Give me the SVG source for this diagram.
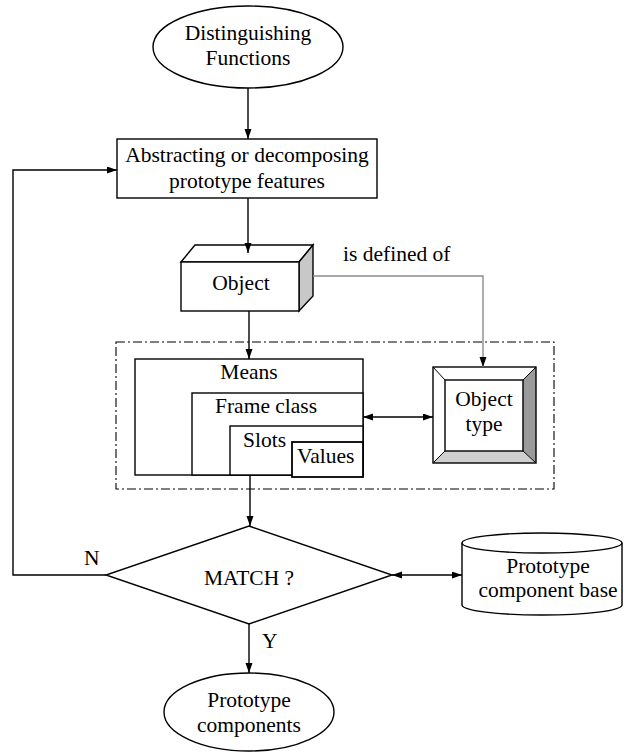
<svg xmlns="http://www.w3.org/2000/svg" width="624" height="755" viewBox="0 0 624 755">
  <defs>
    <marker id="arr" markerUnits="userSpaceOnUse" markerWidth="11" markerHeight="8" refX="10" refY="3.5" orient="auto-start-reverse">
      <path d="M0,0 L10,3.5 L0,7 z" fill="#000"/>
    </marker>
    <marker id="arrGray" markerUnits="userSpaceOnUse" markerWidth="11" markerHeight="8" refX="10" refY="3.5" orient="auto-start-reverse">
      <path d="M0,0 L10,3.5 L0,7 z" fill="#000"/>
    </marker>
    <style>
      .shape { fill: #fff; stroke: #000; stroke-width: 1.4; }
      .edge { fill: none; stroke: #000; stroke-width: 1.4; }
      .edge-gray { fill: none; stroke: #8c8c8c; stroke-width: 1.4; }
      .frame { fill: none; stroke: #000; stroke-width: 1.1; stroke-dasharray: 9 3 2 3; }
      text { font-family: "Liberation Serif", "Times New Roman", serif; font-size: 21.5px; fill: #000; }
      .mid { text-anchor: middle; }
    </style>
  </defs>

  <!-- start terminal -->
  <g id="distinguishing-functions">
    <ellipse class="shape" cx="248" cy="47" rx="95" ry="41"/>
    <text class="mid" x="248" y="40">Distinguishing</text>
    <text class="mid" x="248" y="65">Functions</text>
  </g>

  <!-- process step -->
  <g id="abstracting">
    <rect class="shape" x="117" y="139" width="260" height="59"/>
    <text class="mid" x="247" y="162">Abstracting or decomposing</text>
    <text class="mid" x="247" y="188">prototype features</text>
  </g>

  <!-- 3D object block -->
  <g id="object">
    <polygon class="shape" points="181,262 195,245 313,245 299,262"/>
    <polygon class="shape" points="299,262 313,245 313,296 299,311" style="fill:#c8c8c8"/>
    <rect class="shape" x="181" y="262" width="118" height="49"/>
    <text class="mid" x="241" y="290">Object</text>
  </g>

  <!-- dash-dot grouping frame -->
  <g id="frame-group">
    <rect class="frame" x="116" y="342" width="438" height="147"/>
  </g>

  <!-- nested Means / Frame class / Slots / Values -->
  <g id="means">
    <rect class="shape" x="135" y="359" width="228" height="116"/>
    <text class="mid" x="249" y="379">Means</text>
  </g>
  <g id="frame-class">
    <rect class="shape" x="192" y="393" width="171" height="82"/>
    <text x="215" y="413">Frame class</text>
  </g>
  <g id="slots">
    <rect class="shape" x="230" y="426" width="133" height="49"/>
    <text x="243" y="447">Slots</text>
  </g>
  <g id="values">
    <rect class="shape" x="292" y="442" width="71" height="35" style="stroke-width:1.8"/>
    <text x="297" y="463">Values</text>
  </g>

  <!-- bevelled Object type button -->
  <g id="object-type">
    <rect x="433" y="367" width="103" height="96" fill="#fff"/>
    <polygon points="536,367 536,463 523,451 523,380" fill="#9a9a9a"/>
    <polygon points="433,463 536,463 523,451 445,451" fill="#cfcfcf"/>
    <line x1="433" y1="367" x2="445" y2="380" stroke="#000" stroke-width="1"/>
    <line x1="536" y1="367" x2="523" y2="380" stroke="#000" stroke-width="1"/>
    <line x1="433" y1="463" x2="445" y2="451" stroke="#000" stroke-width="1"/>
    <line x1="536" y1="463" x2="523" y2="451" stroke="#000" stroke-width="1"/>
    <rect x="433" y="367" width="103" height="96" fill="none" stroke="#000" stroke-width="1.4"/>
    <rect x="445" y="380" width="78" height="71" fill="#fff" stroke="#000" stroke-width="1.4"/>
    <text class="mid" x="484" y="406">Object</text>
    <text class="mid" x="484" y="431">type</text>
  </g>

  <!-- decision -->
  <g id="match">
    <polygon class="shape" points="249,526 392,575 249,624 106,575"/>
    <text class="mid" x="249" y="585">MATCH ?</text>
  </g>

  <!-- data store -->
  <g id="component-base">
    <path class="shape" d="M462,543 A80,10 0 0 1 622,543 V605 A80,10 0 0 1 462,605 Z"/>
    <path class="edge" d="M462,543 A80,10 0 0 0 622,543"/>
    <text class="mid" x="548" y="573">Prototype</text>
    <text class="mid" x="548" y="597">component base</text>
  </g>

  <!-- end terminal -->
  <g id="prototype-components">
    <ellipse class="shape" cx="249" cy="712" rx="85" ry="39"/>
    <text class="mid" x="249" y="707">Prototype</text>
    <text class="mid" x="249" y="732">components</text>
  </g>

  <!-- connectors -->
  <g id="connectors">
    <path class="edge" d="M248,88 V139" marker-end="url(#arr)"/>
    <path class="edge" d="M248,198 V253" marker-end="url(#arr)"/>
    <path class="edge" d="M249,311 V359" marker-end="url(#arr)"/>
    <path class="edge" d="M250,475 V526" marker-end="url(#arr)"/>
    <path class="edge" d="M249,624 V673" marker-end="url(#arr)"/>
    <path class="edge" d="M106,575 H13 V170 H117" marker-end="url(#arr)"/>
    <path class="edge" d="M363,417 H433" marker-start="url(#arr)" marker-end="url(#arr)"/>
    <path class="edge" d="M392,575 H462" marker-start="url(#arr)" marker-end="url(#arr)"/>
    <path class="edge-gray" d="M313,276 H483 V367" marker-end="url(#arrGray)"/>
    <text x="343" y="261">is defined of</text>
    <text x="84" y="565">N</text>
    <text x="262" y="648">Y</text>
  </g>
</svg>
